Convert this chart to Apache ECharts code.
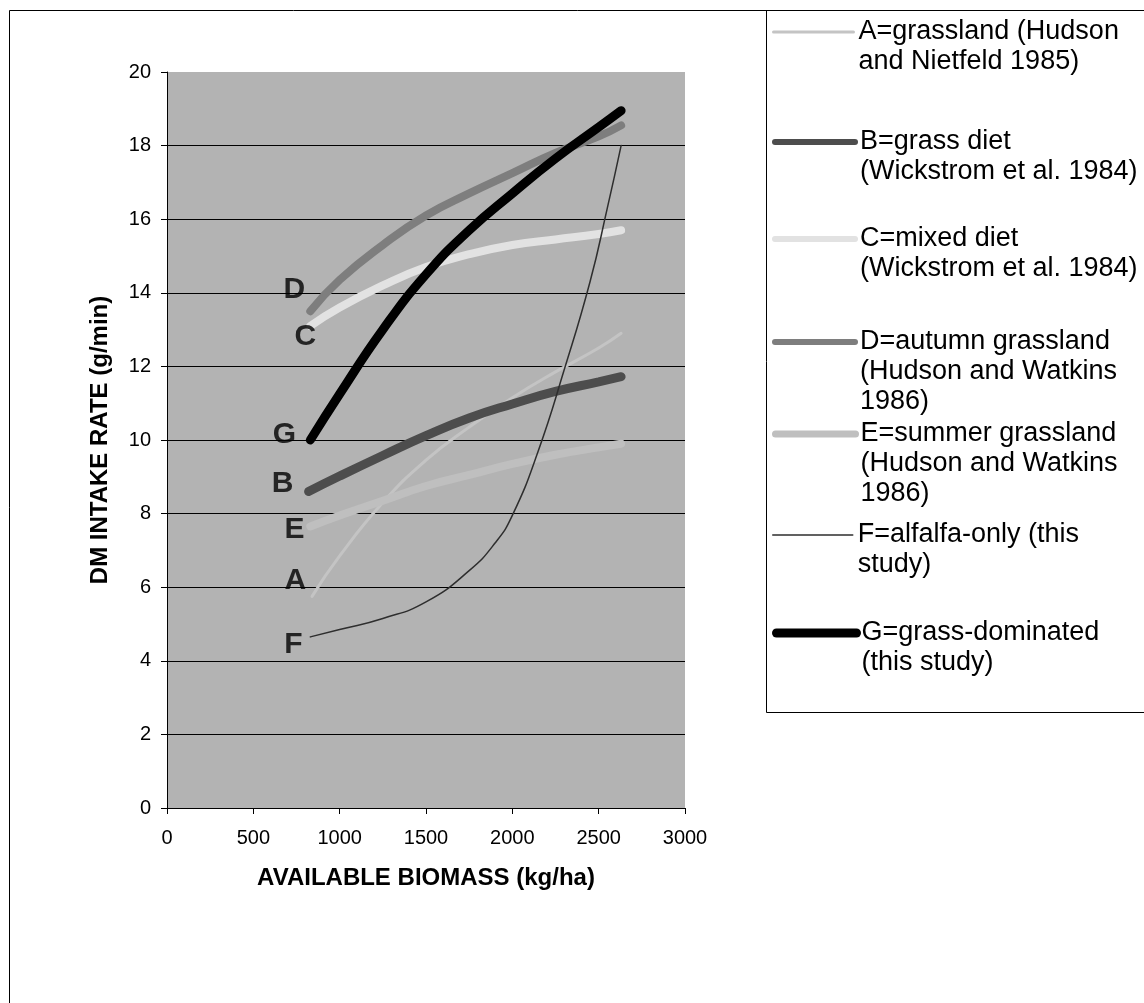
<!DOCTYPE html>
<html>
<head>
<meta charset="utf-8">
<script src="https://cdn.jsdelivr.net/npm/echarts@6/dist/echarts.min.js"></script>
<style>
  html, body { margin: 0; padding: 0; background: #fff; }
  #main { width: 1144px; height: 1003px; }
</style>
</head>
<body>
<div id="main"></div>
<script>
// values: x = available biomass (kg/ha), y = DM intake rate (g/min)
var seriesNames = [
  "A=grassland (Hudson\nand Nietfeld 1985)",
  "B=grass diet\n(Wickstrom et al. 1984)",
  "C=mixed diet\n(Wickstrom et al. 1984)",
  "D=autumn grassland\n(Hudson and Watkins\n1986)",
  "E=summer grassland\n(Hudson and Watkins\n1986)",
  "F=alfalfa-only (this\nstudy)",
  "G=grass-dominated\n(this study)"
];

var xA = [840, 1000, 1250, 1500, 1750, 2000, 2250, 2500, 2630];
var yA = [5.75, 6.85, 8.3, 9.45, 10.35, 11.15, 11.85, 12.5, 12.9];

var xB = [820, 1000, 1250, 1500, 1750, 2000, 2250, 2500, 2630];
var yB = [8.6, 9.02, 9.58, 10.12, 10.6, 10.98, 11.32, 11.58, 11.72];

var xC = [830, 1000, 1250, 1500, 1750, 2000, 2250, 2500, 2630];
var yC = [13.1, 13.6, 14.2, 14.7, 15.05, 15.3, 15.45, 15.6, 15.7];

var xD = [830, 1000, 1250, 1500, 1750, 2000, 2250, 2500, 2630];
var yD = [13.5, 14.35, 15.3, 16.1, 16.7, 17.25, 17.8, 18.25, 18.55];

var xE = [830, 1000, 1250, 1500, 1750, 2000, 2250, 2500, 2630];
var yE = [7.65, 7.95, 8.35, 8.75, 9.05, 9.35, 9.6, 9.8, 9.9];

var xF = [830, 1000, 1250, 1500, 1750, 1900, 2000, 2150, 2300, 2450, 2550, 2630];
var yF = [4.65, 4.85, 5.15, 5.6, 6.45, 7.2, 7.95, 9.7, 11.9, 14.3, 16.3, 18.0];

var xG = [830, 1000, 1250, 1500, 1750, 2000, 2250, 2500, 2630];
var yG = [10.0, 11.25, 13.0, 14.5, 15.7, 16.7, 17.65, 18.5, 18.95];

// curve letters placed in the plot
var letterText = ["D", "C", "G", "B", "E", "A", "F"];
var letterX = [737, 801, 680, 670, 739, 743, 732];
var letterY = [14.08, 12.8, 10.13, 8.82, 7.55, 6.18, 4.45];

var FONT = "Liberation Sans, Arial, sans-serif";

function pairs(xs, ys) {
  return xs.map(function (x, i) { return [x, ys[i]]; });
}

var curveX = [xA, xB, xC, xD, xE, xF, xG];
var curveY = [yA, yB, yC, yD, yE, yF, yG];
var lineColors = ["#c4c4c4", "#4d4d4d", "#e2e2e2", "#7e7e7e", "#bfbfbf", "#2e2e2e", "#000000"];
var lineWidths = [3, 9, 8, 8, 8, 1.5, 9];
var legendWidths = [3, 6, 6, 6, 7, 1.5, 9];
// y of the first text line of each legend entry
var legendRows = [32, 142, 239, 342, 434, 535, 633];
var LINE_H = 30;

var myChart = echarts.init(document.getElementById("main"));

var series = seriesNames.map(function (name, i) {
  return {
    name: name,
    type: "line",
    data: pairs(curveX[i], curveY[i]),
    smooth: 0.5,
    symbol: "none",
    silent: true,
    lineStyle: { color: lineColors[i], width: lineWidths[i], cap: "round" },
    itemStyle: { color: lineColors[i] },
    z: i === 6 ? 4 : 3
  };
});

series.push({
  type: "scatter",
  name: "letters",
  data: pairs(letterX, letterY),
  symbolSize: 1,
  itemStyle: { color: "rgba(0,0,0,0)" },
  silent: true,
  z: 6,
  label: {
    show: true,
    position: "inside",
    formatter: function (p) { return letterText[p.dataIndex]; },
    fontSize: 30,
    fontWeight: "bold",
    color: "#000",
    fontFamily: FONT
  }
});

// one legend per entry; blank lines above the text keep the icon on the first line
var legends = seriesNames.map(function (name, i) {
  var extra = name.split("\n").length - 1;
  var pad = "";
  for (var k = 0; k < extra; k++) pad += "\n";
  return {
    data: [name],
    orient: "vertical",
    left: 772,
    top: legendRows[i] - LINE_H / 2 - extra * LINE_H,
    padding: 0,
    itemWidth: 80,
    itemHeight: 14,
    selectedMode: false,
    formatter: function (n) { return pad + n; },
    lineStyle: { width: legendWidths[i], cap: "round" },
    itemStyle: { color: "rgba(0,0,0,0)", borderWidth: 0, opacity: 0 },
    textStyle: {
      fontSize: 27,
      lineHeight: LINE_H,
      color: "#000",
      fontFamily: FONT
    }
  };
});

var option = {
  animation: false,
  backgroundColor: "#ffffff",
  textStyle: { fontFamily: FONT },
  grid: {
    left: 167,
    right: 459,
    top: 72,
    bottom: 195,
    show: true,
    backgroundColor: "#b3b3b3",
    borderWidth: 0,
    outerBoundsMode: "none"
  },
  legend: legends,
  xAxis: {
    type: "value",
    min: 0,
    max: 3000,
    interval: 500,
    axisLine: { show: true, onZero: false, lineStyle: { color: "#000", width: 1 } },
    axisTick: { show: true, length: 6, lineStyle: { color: "#000" } },
    axisLabel: {
      fontSize: 20, color: "#000", margin: 20, fontFamily: FONT,
      formatter: function (v) { return String(v); }
    },
    splitLine: { show: false },
    name: "AVAILABLE BIOMASS (kg/ha)",
    nameLocation: "middle",
    nameGap: 58,
    nameTextStyle: { fontSize: 24, fontWeight: "bold", color: "#000", fontFamily: FONT }
  },
  yAxis: {
    type: "value",
    min: 0,
    max: 20,
    interval: 2,
    axisLine: { show: true, lineStyle: { color: "#000", width: 1 } },
    axisTick: { show: true, length: 6, lineStyle: { color: "#000" } },
    axisLabel: { fontSize: 20, color: "#000", margin: 16, fontFamily: FONT },
    splitLine: { show: true, showMaxLine: false, lineStyle: { color: "#000", width: 1 } },
    name: "DM INTAKE RATE (g/min)",
    nameLocation: "middle",
    nameGap: 55,
    nameRotate: 90,
    nameTextStyle: { fontSize: 24, fontWeight: "bold", color: "#000", fontFamily: FONT }
  },
  graphic: [
    {
      type: "rect",
      silent: true,
      shape: { x: 9.5, y: 10.5, width: 1150, height: 1010 },
      style: { fill: "none", stroke: "#000", lineWidth: 1 }
    },
    {
      type: "rect",
      silent: true,
      shape: { x: 766.5, y: 10.5, width: 400, height: 702 },
      style: { fill: "none", stroke: "#000", lineWidth: 1 }
    }
  ],
  series: series
};

option && myChart.setOption(option);
</script>
</body>
</html>
